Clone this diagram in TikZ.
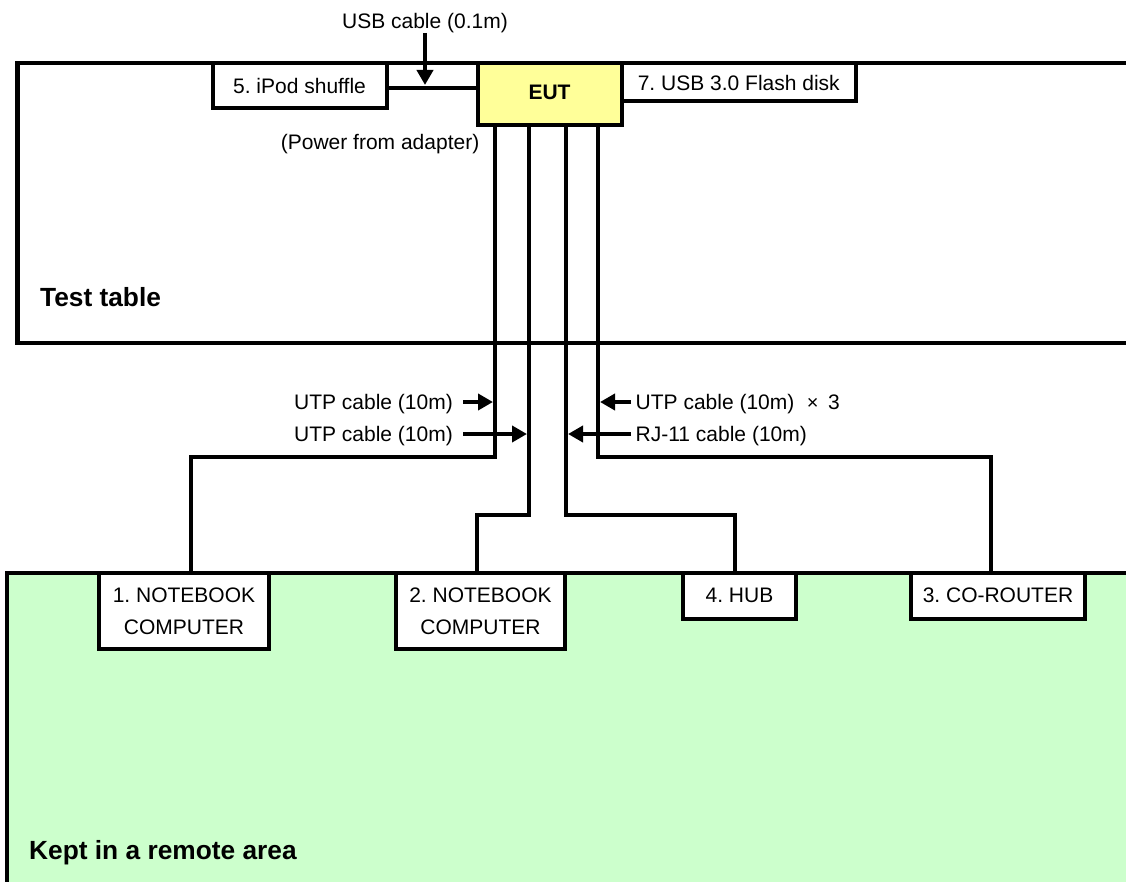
\documentclass[tikz,border=0pt]{standalone}
\usepackage{fontspec}
\setmainfont{Liberation Sans}
\usetikzlibrary{arrows.meta}
\AtBeginDocument{\frenchspacing}
\tikzset{
  wire/.style={line width=4pt,line cap=butt,line join=miter},
  box/.style={draw,line width=4pt,fill=white,inner sep=0pt,outer sep=0pt,anchor=north west,align=center,font=\fontsize{21}{32}\selectfont},
  lab/.style={inner sep=0pt,font=\fontsize{21}{24}\selectfont},
  head/.style={inner sep=0pt,font=\bfseries\fontsize{26.3}{30}\selectfont,anchor=base west},
  pointer/.style={line width=4pt,-{Triangle[length=15pt,width=16pt]},shorten >=2pt},
}
\begin{document}
\begin{tikzpicture}[x=1pt,y=-1pt]
\useasboundingbox (0,0) rectangle (1126,882);
\clip (0,0) rectangle (1126,882);
% areas
\draw[line width=4.5pt] (1140,63) -- (17.5,63) -- (17.5,343) -- (1140,343);
\draw[line width=4pt,fill={rgb,255:red,204;green,255;blue,204}] (1140,573) -- (6.5,573) -- (6.5,900) -- (1140,900) -- cycle;
\node[head] (table) at (40,307) {Test table};
\node[head] (remote) at (29,859) {Kept in a remote area};
% equipment
\node[box,minimum width=174pt,minimum height=45pt,text height=17pt,text depth=0pt] (ipod) at (212.5,63) {5. iPod shuffle};
\node[box,minimum width=233.5pt,minimum height=38pt,text height=17.4pt,text depth=0pt] (flash) at (622,63) {7. USB 3.0 Flash disk};
\node[box,minimum width=144pt,minimum height=62pt,text height=16pt,text depth=4pt,fill={rgb,255:red,255;green,255;blue,153},font=\bfseries\fontsize{21}{24}\selectfont] (eut) at (477.5,63) {EUT};
\node[box,minimum width=170pt,minimum height=76pt] (nb1) at (99,573) {1. NOTEBOOK\\COMPUTER};
\node[box,minimum width=169pt,minimum height=76pt] (nb2) at (396,573) {2. NOTEBOOK\\COMPUTER};
\node[box,minimum width=113pt,minimum height=46pt,text height=16pt,text depth=4pt] (hub) at (683,573) {4. HUB};
\node[box,minimum width=174pt,minimum height=46pt,text height=16pt,text depth=4pt] (router) at (911,573) {3. CO-ROUTER};
% cables
\coordinate (usbmid) at (425,88);
\draw[wire] (ipod.east |- usbmid) -- (eut.west |- usbmid);
\coordinate (c1a) at (495,457); \coordinate (c2a) at (529,515);
\coordinate (c3a) at (566,515); \coordinate (c4a) at (598,457);
\draw[wire] (c1a |- eut.south) -- (c1a) -- (191,457) -- (191,573);
\draw[wire] (c2a |- eut.south) -- (c2a) -- (477,515) -- (477,573);
\draw[wire] (c3a |- eut.south) -- (c3a) -- (735,515) -- (735,573);
\draw[wire] (c4a |- eut.south) -- (c4a) -- (991,457) -- (991,573);
% labels
\node[lab,anchor=base] (usb) at (425,29) {USB cable (0.1m)};
\node[lab,anchor=base east] (power) at (479.5,150) {(Power from adapter)};
\node[lab,anchor=base east] (u1) at (453,409) {UTP cable (10m)};
\node[lab,anchor=base east] (u2) at (453,441) {UTP cable (10m)};
\node[lab,anchor=base west] (u3) at (635.5,409) {UTP cable (10m)\hspace{12.5pt}{\fontsize{20}{20}\selectfont ×}\hspace{9.5pt}3};
\node[lab,anchor=base west] (rj) at (635.5,441) {RJ-11 cable (10m)};
% pointers
\coordinate (pu1) at (495,402); \coordinate (pu2) at (529,434);
\coordinate (pu3) at (598,402); \coordinate (prj) at (566,434);
\coordinate (su1) at (463,402); \coordinate (su2) at (463,434);
\coordinate (su3) at (631,402); \coordinate (srj) at (631,434);
\coordinate (susb) at (425,33);
\draw[pointer,shorten >=3pt] (susb) -- (usbmid);
\draw[pointer] (su1) -- (pu1);
\draw[pointer] (su2) -- (pu2);
\draw[pointer] (su3) -- (pu3);
\draw[pointer] (srj) -- (prj);
\end{tikzpicture}
\end{document}
